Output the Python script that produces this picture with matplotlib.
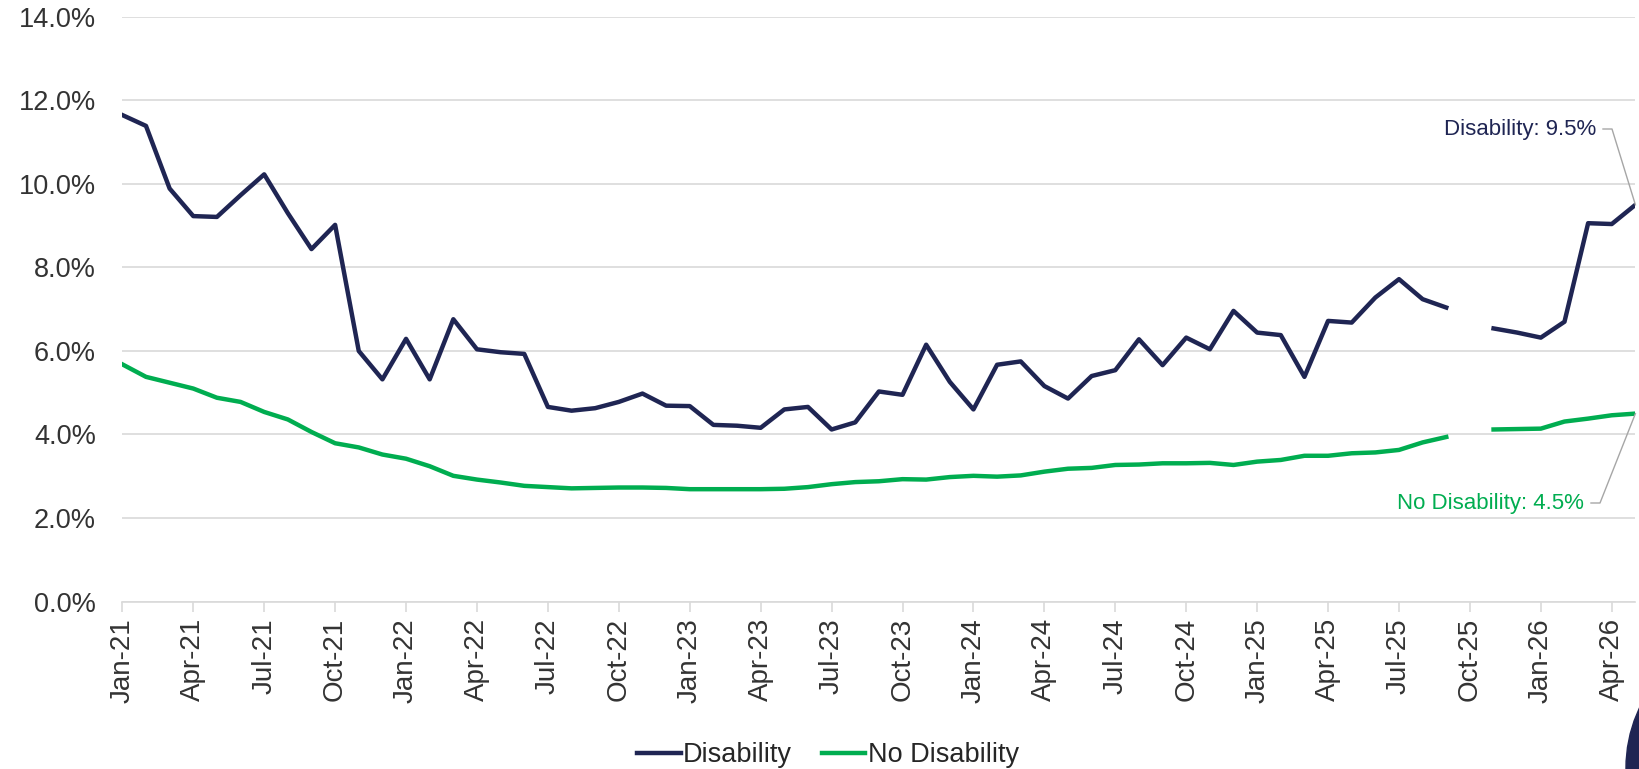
import numpy as np
import matplotlib

matplotlib.use('Agg')
import matplotlib.pyplot as plt
from matplotlib.lines import Line2D
from matplotlib.patches import Ellipse

plt.rcParams['font.family'] = ['Liberation Sans', 'DejaVu Sans']

# monthly series, Jan-21 .. May-26 (Oct-25 missing)
months = ['Jan', 'Feb', 'Mar', 'Apr', 'May', 'Jun',
          'Jul', 'Aug', 'Sep', 'Oct', 'Nov', 'Dec']
years = ['21', '22', '23', '24', '25', '26']

disability = [
    11.65, 11.39, 9.89, 9.23, 9.21, 9.73, 10.23, 9.30, 8.44, 9.02, 6.00, 5.32,
    6.29, 5.32, 6.76, 6.04, 5.97, 5.93, 4.66, 4.57, 4.63, 4.78, 4.98, 4.69,
    4.68, 4.23, 4.21, 4.16, 4.60, 4.66, 4.12, 4.29, 5.03, 4.95, 6.15, 5.26,
    4.60, 5.67, 5.75, 5.16, 4.86, 5.40, 5.54, 6.28, 5.66, 6.32, 6.04, 6.96,
    6.44, 6.38, 5.38, 6.72, 6.68, 7.28, 7.72, 7.24, 7.04, np.nan, 6.54, 6.44,
    6.32, 6.70, 9.06, 9.04, 9.50,
]
no_disability = [
    5.68, 5.38, 5.24, 5.10, 4.88, 4.78, 4.54, 4.36, 4.06, 3.79, 3.69, 3.52,
    3.42, 3.24, 3.01, 2.92, 2.85, 2.77, 2.74, 2.71, 2.72, 2.73, 2.73, 2.72,
    2.69, 2.69, 2.69, 2.69, 2.70, 2.74, 2.81, 2.86, 2.88, 2.93, 2.92, 2.98,
    3.01, 2.99, 3.02, 3.11, 3.18, 3.20, 3.27, 3.28, 3.31, 3.31, 3.32, 3.27,
    3.35, 3.39, 3.49, 3.49, 3.55, 3.57, 3.63, 3.81, 3.94, np.nan, 4.12, 4.13,
    4.14, 4.31, 4.38, 4.46, 4.50,
]

labels = [f'{m}-{y}' for y in years for m in months][:len(disability)]

NAVY = '#1F2553'
GREEN = '#00AD50'
GRID = '#D9D9D9'
LEADER = '#A6A6A6'

fig = plt.figure(figsize=(16.4, 7.69), dpi=100)
ax = fig.add_axes([0.0746, 0.2178, 0.9226, 0.7602])

x = np.arange(len(disability))
ax.plot(x, disability, color=NAVY, lw=3.2, label='Disability')
ax.plot(x, no_disability, color=GREEN, lw=3.2, label='No Disability')

ax.set_xlim(0, len(disability) - 1)
ax.set_ylim(0, 14)
ax.set_yticks(np.arange(0, 15, 2))
ax.set_yticklabels([f'{v:.1f}%' for v in np.arange(0, 15, 2)])
ax.yaxis.grid(True, color=GRID, lw=1.2)
ax.set_axisbelow(True)

ax.set_xticks(x[::3])
ax.set_xticklabels(labels[::3], rotation=90, ha='center', va='top')

for s in ['top', 'right', 'left']:
    ax.spines[s].set_visible(False)
ax.spines['bottom'].set_color(GRID)
ax.spines['bottom'].set_linewidth(1.2)

ax.tick_params(axis='y', length=0, pad=19, labelsize=19.5, labelcolor='#333333')
ax.tick_params(axis='x', length=7, width=1.2, color=GRID, pad=5,
               labelsize=20, labelcolor='#333333')


def callout(text, color, value, text_xy, knee_x):
    """label at text_xy (figure px, right edge) with a bent leader to the last point"""
    tx, ty = text_xy
    fig.text(tx, ty, text, transform=None, ha='right', va='center',
             fontsize=16, color=color)
    px, py = ax.transData.transform((len(disability) - 1, value))
    fig.add_artist(Line2D([tx + 7, knee_x, px], [ty, ty, py], transform=None,
                          color=LEADER, lw=1, zorder=4))


callout(f'Disability: {disability[-1]:.1f}%', NAVY, disability[-1], (1596, 640), 1612)
callout(f'No Disability: {no_disability[-1]:.1f}%', GREEN, no_disability[-1],
        (1584, 266), 1600)

leg = fig.legend(loc='center', bbox_to_anchor=(0.505, 0.018), ncol=2, frameon=False,
                 fontsize=19.5, handlelength=1.6, handletextpad=0.1,
                 columnspacing=1.1)
for t in leg.get_texts():
    t.set_color('#262626')

# logo disc clipped at the lower-right corner
fig.patches.append(Ellipse((1766 / 1640, 1 / 769), 280 / 1640, 280 / 769,
                           transform=fig.transFigure, color=NAVY, zorder=5))

fig.savefig('out.png', dpi=100)
